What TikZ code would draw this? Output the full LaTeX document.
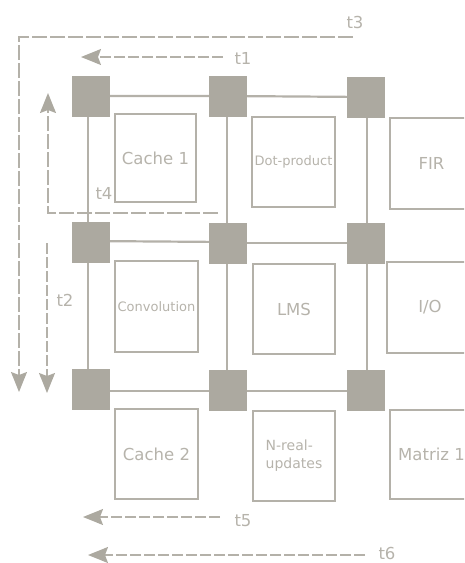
\documentclass[tikz,border=0pt]{standalone}
\usepackage{fontspec}
\setmainfont{DejaVu Sans}
\usetikzlibrary{arrows.meta}
\definecolor{ink}{RGB}{172,169,160}
\definecolor{edge}{RGB}{180,177,169}
\definecolor{txt}{RGB}{182,179,171}
\begin{document}
\begin{tikzpicture}[x=1pt,y=-1pt,
  router/.style={rectangle,fill=ink,draw=none,minimum width=38pt,minimum height=41pt,inner sep=0pt},
  module/.style={rectangle,draw=edge,line width=2.1pt,text=txt,inner sep=0pt,font=\fontsize{16.5}{19}\selectfont},
  small/.style={font=\fontsize{13}{16}\selectfont},
  link/.style={draw=edge,line width=2.2pt},
  flowtip/.style={-{Stealth[length=20pt,width=16pt,inset=3pt,fill=ink,color=ink]}},
  flow/.style={draw=edge,line width=1.4pt,dash pattern=on 11pt off 3pt,flowtip},
  longflow/.style={draw=edge,line width=1.4pt,dash pattern=on 15pt off 3pt,flowtip},
  lbl/.style={text=txt,font=\fontsize{16.5}{19}\selectfont,inner sep=0pt}]
\useasboundingbox (0,0) rectangle (464,563);
\clip (0,0) rectangle (464,563);

% links (drawn first, routers cover their ends)
\coordinate (c11) at (88,96);   \coordinate (c12) at (227,96);  \coordinate (c13) at (367,97);
\coordinate (c21) at (88,241);  \coordinate (c22) at (227,242); \coordinate (c23) at (367,243);
\coordinate (c31) at (88,391);  \coordinate (c32) at (227,391); \coordinate (c33) at (367,391);
\draw[link] (c11) -- (c12) -- (c13);
\draw[link] (c21) -- (c22);
\draw[link] (227,243) -- (c23);
\draw[link] (c31) -- (c32) -- (c33);
\draw[link] (c11) -- (c21) -- (c31);
\draw[link] (c12) -- (c22) -- (c32);
\draw[link] (c13) -- (c23) -- (c33);

% routers
\node[router] (r11) at (90.5,96) {};
\node[router] (r12) at (228,96.5) {};
\node[router] (r13) at (366,97) {};
\node[router] (r21) at (90.5,242.5) {};
\node[router] (r22) at (228,243.5) {};
\node[router] (r23) at (366,243.5) {};
\node[router] (r31) at (90.5,389.5) {};
\node[router] (r32) at (228,390.5) {};
\node[router] (r33) at (366,390.5) {};

% modules
\node[module,minimum width=81pt,minimum height=88pt] (m11) at (155.5,158) {Cache 1};
\node[module,small,minimum width=83pt,minimum height=90pt] (m12) at (293.5,162) {Dot-product};
\node[module,minimum width=83pt,minimum height=91pt] (m13) at (431.5,163.5) {FIR};
\node[module,small,minimum width=83pt,minimum height=91pt] (m21) at (156.5,306.5) {Convolution};
\node[module,minimum width=82pt,minimum height=90pt] (m22) at (294,309) {LMS};
\node[module,minimum width=86pt,minimum height=91pt] (m23) at (430,307.5) {I/O};
\node[module,minimum width=83pt,minimum height=90pt] (m31) at (156.5,454) {Cache 2};
\node[module,font=\fontsize{14}{18}\selectfont,align=left,minimum width=82pt,minimum height=90pt] (m32) at (294,456) {N-real-\\updates};
\node[module,minimum width=83pt,minimum height=89pt] (m33) at (431.5,454.5) {Matriz 1};

% flow arrows
\coordinate (t3s) at (353,37);
\coordinate (t3c) at (19,37);
\coordinate (t3e) at (19,392);
\draw[longflow] (t3s) -- (t3c) -- (t3e);
\node[lbl] (l3) at (355,22) {t3};

\coordinate (t1s) at (223,57);
\coordinate (t1e) at (81,57);
\draw[flow] (t1s) -- (t1e);
\node[lbl] (l1) at (243,58) {t1};

\coordinate (t4s) at (218,213);
\coordinate (t4c) at (48,213);
\coordinate (t4e) at (48,93);
\draw[longflow] (t4s) -- (t4c) -- (t4e);
\node[lbl] (l4) at (104,193) {t4};

\coordinate (t2s) at (47,243);
\coordinate (t2e) at (47,393);
\draw[flow] (t2s) -- (t2e);
\node[lbl] (l2) at (65,300) {t2};

\coordinate (t5s) at (220,517);
\coordinate (t5e) at (83,517);
\draw[flow] (t5s) -- (t5e);
\node[lbl] (l5) at (243,521) {t5};

\coordinate (t6s) at (365,555);
\coordinate (t6e) at (88,555);
\draw[flow] (t6s) -- (t6e);
\node[lbl] (l6) at (387,553) {t6};
\end{tikzpicture}
\end{document}
